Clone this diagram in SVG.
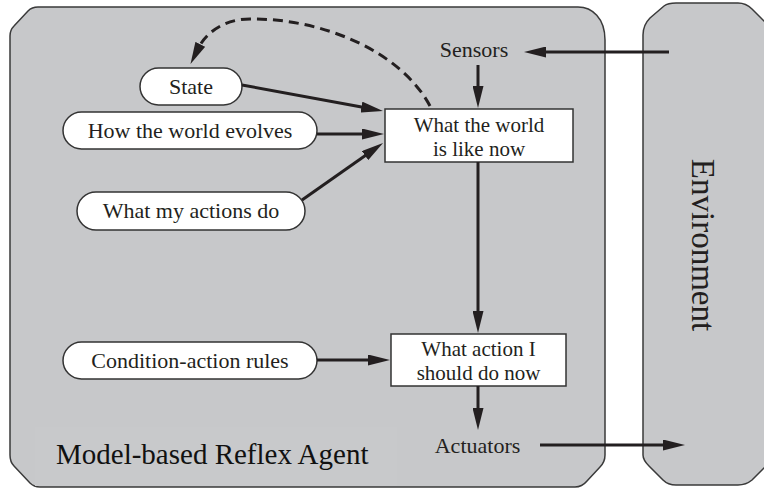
<svg xmlns="http://www.w3.org/2000/svg" width="764" height="489" viewBox="0 0 764 489">
  <style>
    .panel { fill: #c7c8ca; stroke: #3a3a3a; stroke-width: 1.5; }
    .pill { fill: #ffffff; stroke: #333333; stroke-width: 1.5; }
    .box { fill: #ffffff; stroke: #333333; stroke-width: 1.5; }
    .lbl { font-family: "Liberation Serif", "Times New Roman", serif; font-size: 22px; fill: #231f20; text-anchor: middle; }
    .lbl2 { font-family: "Liberation Serif", "Times New Roman", serif; font-size: 21px; fill: #231f20; text-anchor: middle; }
    .title { font-family: "Liberation Serif", "Times New Roman", serif; font-size: 29px; fill: #111111; }
    .env { font-family: "Liberation Serif", "Times New Roman", serif; font-size: 33px; fill: #231f20; text-anchor: middle; }
    .wire { fill: none; stroke: #231f20; stroke-width: 3; marker-end: url(#head); }
    .dash { fill: none; stroke: #231f20; stroke-width: 3; stroke-dasharray: 10 6; marker-end: url(#head); }
  </style>
  <defs>
    <marker id="head" viewBox="0 0 22 11" markerWidth="22" markerHeight="11" refX="3" refY="5.5" orient="auto" markerUnits="userSpaceOnUse">
      <path d="M0,0 L22,5.5 L0,11 Z" fill="#231f20"/>
    </marker>
  </defs>

  <!-- agent panel -->
  <g id="agent">
    <path class="panel" d="M10,36 Q10,30 14,26 L28,11 Q32,7 38,7 L578,7 C592,7 605,18 605,40 L605,455 Q605,462 600,467 L587,481 Q582,487 575,487 L40,487 Q34,487 30,483 L14,466 Q10,462 10,455 Z"/>
    <rect x="35" y="427" width="362" height="59" fill="#c8c9cb"/>
    <text class="title" x="56" y="464">Model-based Reflex Agent</text>
  </g>

  <!-- environment panel -->
  <g id="environment">
    <path class="panel" d="M643,35 Q643,25 650,18 L664,6 Q668,3 676,3 L738,3 Q746,3 752,9 L766,23 Q770,28 770,35 L770,455 Q770,462 765,467 L752,480 Q746,485 738,485 L676,485 Q668,485 663,480 L649,466 Q643,460 643,455 Z"/>
    <text class="env" transform="translate(692,245) rotate(90)">Environment</text>
  </g>

  <g id="sensors">
    <text class="lbl" x="474" y="57">Sensors</text>
  </g>
  <g id="actuators">
    <text class="lbl" x="477.5" y="453">Actuators</text>
  </g>

  <g id="state">
    <rect class="pill" x="140" y="68" width="102" height="37" rx="18.5"/>
    <text class="lbl" x="191" y="94">State</text>
  </g>
  <g id="world-evolves">
    <rect class="pill" x="63" y="112" width="254" height="37" rx="18.5"/>
    <text class="lbl" x="190" y="138">How the world evolves</text>
  </g>
  <g id="actions-do">
    <rect class="pill" x="77" y="192" width="228" height="38" rx="19"/>
    <text class="lbl" x="191" y="218">What my actions do</text>
  </g>
  <g id="rules">
    <rect class="pill" x="63" y="342" width="254" height="37" rx="18.5"/>
    <text class="lbl" x="190" y="368">Condition-action rules</text>
  </g>

  <g id="world-now">
    <rect class="box" x="385" y="109" width="188" height="53"/>
    <text class="lbl2" x="479" y="132"><tspan x="479">What the world</tspan><tspan x="479" dy="24">is like now</tspan></text>
  </g>
  <g id="action-now">
    <rect class="box" x="391" y="334" width="175" height="52"/>
    <text class="lbl2" x="478.5" y="356"><tspan x="478.5">What action I</tspan><tspan x="478.5" dy="24">should do now</tspan></text>
  </g>

  <!-- connectors -->
  <g id="connectors">
    <line class="wire" x1="669" y1="52" x2="543" y2="52"/>
    <line class="wire" x1="478" y1="65" x2="478" y2="89"/>
    <line class="wire" x1="478" y1="162" x2="478" y2="314"/>
    <line class="wire" x1="478" y1="386" x2="478" y2="411"/>
    <line class="wire" x1="540" y1="445" x2="666" y2="445"/>
    <line class="wire" x1="242" y1="85" x2="364.3" y2="107.6"/>
    <line class="wire" x1="317" y1="134" x2="365" y2="134"/>
    <line class="wire" x1="302" y1="200" x2="367.5" y2="153.9"/>
    <line class="wire" x1="317" y1="360" x2="371" y2="360"/>
    <path class="dash" d="M430,106 C400,50 320,18 250,19 C222,19 205,35 199,47"/>
  </g>
</svg>
